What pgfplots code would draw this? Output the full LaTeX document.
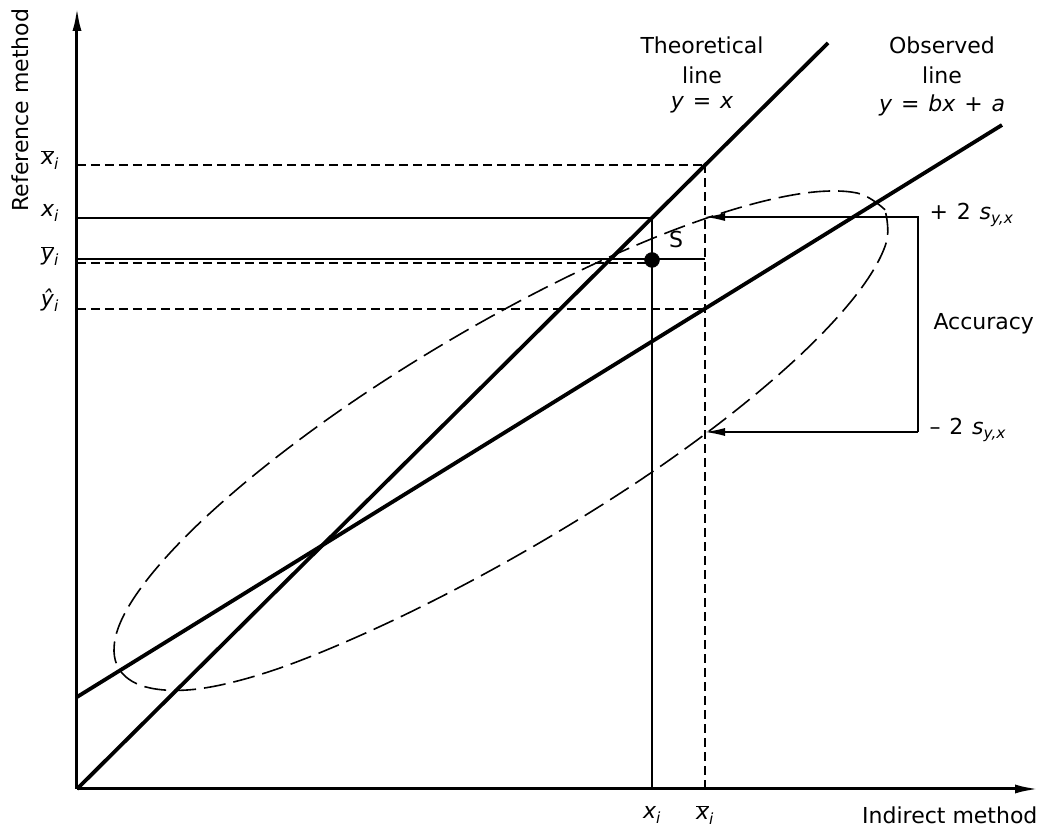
\documentclass[border=0pt]{standalone}
\usepackage{fontspec}
\setmainfont{DejaVu Sans}
\usepackage{pgfplots}
\pgfplotsset{compat=1.18}
\usetikzlibrary{arrows.meta}
\newcommand{\iv}[1]{\textit{#1}}
\newcommand{\sub}[1]{\textsubscript{\textit{#1}}}
\newcommand{\ovl}[1]{$\overline{\mbox{\itshape #1}}$}
\begin{document}
\begin{tikzpicture}
\begin{axis}[
  x=1pt, y=1pt,
  xmin=0, xmax=965, ymin=0, ymax=782,
  hide axis, clip=false,
  every axis plot/.append style={black},
]
\path (axis cs:-77,-40) rectangle (axis cs:965,789);
% axes
\addplot[line width=3pt, -{Latex[length=24pt,width=9pt]}] coordinates {(0,0) (962,0)};
\addplot[line width=3pt, -{Latex[length=24pt,width=9pt]}] coordinates {(0,0) (0,782)};
% guide lines
\addplot[line width=1.1pt, dash pattern=on 9pt off 5pt] coordinates {(0,624) (628,624)};
\addplot[line width=1.1pt] coordinates {(0,571) (575,571)};
\addplot[line width=1.1pt] coordinates {(0,530) (628,530)};
\addplot[line width=1.1pt, dash pattern=on 9pt off 5pt] coordinates {(0,526) (575,526)};
\addplot[line width=1.1pt, dash pattern=on 9pt off 5pt] coordinates {(0,480) (628,480)};
\addplot[line width=1.1pt] coordinates {(575,0) (575,571)};
\addplot[line width=1.1pt, dash pattern=on 9pt off 5pt] coordinates {(628,0) (628,624)};
% accuracy bracket
\addplot[line width=1.4pt, {Latex[length=20pt,width=8pt]}-] coordinates {(628,572) (841,572) (841,357)};
\addplot[line width=1.4pt, -{Latex[length=20pt,width=8pt]}] coordinates {(841,357) (628,357)};
% ellipse
\addplot[line width=1.6pt, dash pattern=on 22pt off 8pt, smooth, tension=0.6] coordinates {
(808.0,579.2) (780.4,595.9) (728.5,596.0) (656.0,579.4) (567.6,547.3) (469.5,501.8)
(368.3,446.1) (270.9,384.0) (184.0,319.5) (113.6,257.4) (64.3,201.6) (39.6,156.1)
(41.0,121.8) (68.6,102.1) (120.5,100.0) (193.0,117.6) (281.4,152.7) (379.5,200.2)
(480.7,256.9) (578.1,319.0) (665.0,383.5) (735.4,445.6) (784.7,501.4) (809.4,546.9)
(808.0,579.2)};
% lines
\addplot[line width=3.8pt] coordinates {(0,0) (751,746)};
\addplot[line width=3.8pt] coordinates {(0,92) (925,664)};
% point S
\addplot[only marks, mark=*, mark size=7.5pt, mark options={fill=black}] coordinates {(575,529)};
% texts
\node[font=\fontsize{22}{26}\selectfont] at (axis cs:599,549) {S};
\node[font=\fontsize{22}{26}\selectfont] at (axis cs:625,744) {Theoretical};
\node[font=\fontsize{22}{26}\selectfont] at (axis cs:625,714) {line};
\node[font=\fontsize{22}{26}\selectfont] at (axis cs:625,684) {\iv{y}\hspace{0.4em}=\hspace{0.4em}\iv{x}};
\node[font=\fontsize{22}{26}\selectfont] at (axis cs:865,744) {Observed};
\node[font=\fontsize{22}{26}\selectfont] at (axis cs:865,714) {line};
\node[font=\fontsize{22}{26}\selectfont] at (axis cs:865,684) {\iv{y}\hspace{0.4em}=\hspace{0.4em}\iv{bx}\hspace{0.4em}+\hspace{0.4em}\iv{a}};
\node[font=\fontsize{22}{26}\selectfont, anchor=west] at (axis cs:849,574) {+\hspace{0.4em}2\hspace{0.4em}\iv{s}\sub{y,x}};
\node[font=\fontsize{22}{26}\selectfont, anchor=west] at (axis cs:849,359) {–\hspace{0.4em}2\hspace{0.4em}\iv{s}\sub{y,x}};
\node[font=\fontsize{22}{26}\selectfont, anchor=west] at (axis cs:853,465) {Accuracy};
\node[font=\fontsize{22}{26}\selectfont] at (axis cs:-27,629) {\ovl{x}\sub{i}};
\node[font=\fontsize{22}{26}\selectfont] at (axis cs:-27,576) {\iv{x}\sub{i}};
\node[font=\fontsize{22}{26}\selectfont] at (axis cs:-27,533) {\ovl{y}\sub{i}};
\node[font=\fontsize{22}{26}\selectfont] at (axis cs:-27,489) {\iv{ŷ}\sub{i}};
\node[font=\fontsize{22}{26}\selectfont] at (axis cs:575,-26) {\iv{x}\sub{i}};
\node[font=\fontsize{22}{26}\selectfont] at (axis cs:628,-26) {\ovl{x}\sub{i}};
\node[font=\fontsize{22}{26}\selectfont, anchor=east] at (axis cs:964,-26) {Indirect method};
\node[font=\fontsize{22}{26}\selectfont, rotate=90] at (axis cs:-57,679) {Reference method};
\end{axis}
\end{tikzpicture}
\end{document}
